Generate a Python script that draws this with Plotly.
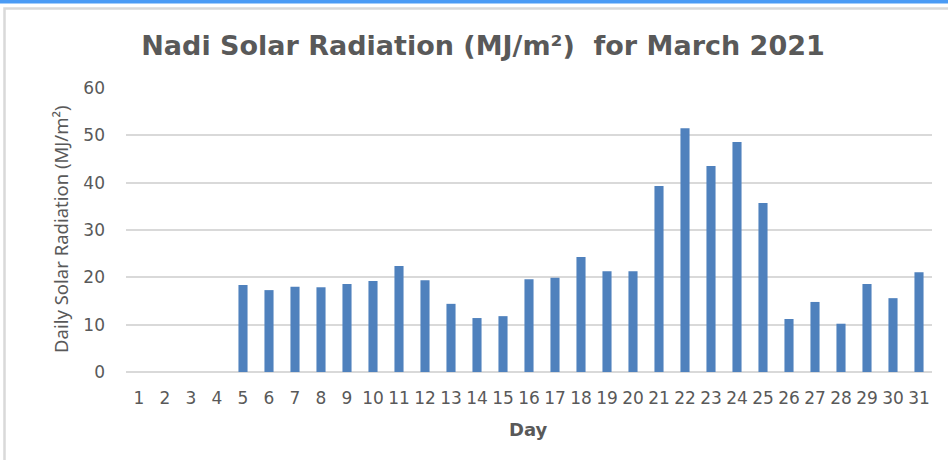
import plotly.graph_objects as go

days = [str(d) for d in range(1, 32)]
radiation = [0, 0, 0, 0, 18.4, 17.3, 18.0, 17.9, 18.6, 19.2, 22.4, 19.4, 14.4, 11.4, 11.8,
             19.6, 19.9, 24.3, 21.3, 21.3, 39.3, 51.5, 43.5, 48.6, 35.7, 11.2, 14.8, 10.2,
             18.6, 15.6, 21.1]
y_ticks = [0, 10, 20, 30, 40, 50, 60]

W, H = 948, 460
L, R, T, B = 126, 16, 88, 88
PW, PH = W - L - R, H - T - B

fig = go.Figure(go.Bar(x=days, y=radiation, marker=dict(color="#4f81bd", line=dict(width=0)), width=0.35))

gray = "#595959"
fig.update_layout(
    width=W, height=H,
    margin=dict(l=L, r=R, t=T, b=B),
    paper_bgcolor="white", plot_bgcolor="white",
    showlegend=False,
    title=dict(text="<b>Nadi Solar Radiation (MJ/m²)  for March 2021</b>",
               x=483 / W, xanchor="center", xref="container",
               y=1 - 46 / H, yanchor="middle", yref="container",
               font=dict(family="DejaVu Sans", size=27, color=gray)),
    xaxis=dict(type="category", tickangle=0, showgrid=False, showline=False,
               tickfont=dict(family="DejaVu Sans", size=17, color=gray),
               ticks="", ticklabelstandoff=14),
    yaxis=dict(range=[0, 60], tickvals=y_ticks, showgrid=True, gridcolor="#d9d9d9", gridwidth=1.5,
               zeroline=True, zerolinecolor="#d9d9d9", zerolinewidth=1.5, showline=False,
               tickfont=dict(family="DejaVu Sans", size=17, color=gray), ticks="",
               ticklabelstandoff=20),
    annotations=[
        dict(text="Daily Solar Radiation (MJ/m²)", textangle=-90, xref="paper", yref="paper",
             x=(60 - L) / PW, y=(372 - 229) / PH, xanchor="center", yanchor="middle",
             showarrow=False, font=dict(family="Noto Sans", size=18.5, color=gray)),
        dict(text="<b>Day</b>", xref="paper", yref="paper",
             x=(528 - L) / PW, y=-(429 - 372) / PH, xanchor="center", yanchor="middle",
             showarrow=False, font=dict(family="DejaVu Sans", size=18, color=gray)),
    ],
    shapes=[
        dict(type="rect", xref="paper", yref="paper",
             x0=-L / PW, x1=1 + R / PW,
             y0=1 + T / PH, y1=1 + (T - 3.5) / PH,
             fillcolor="#4a9bf5", line=dict(width=0)),
        dict(type="rect", xref="paper", yref="paper",
             x0=-(L - 4.5) / PW, x1=1 + (R + 20) / PW,
             y0=1 + (T - 8.5) / PH, y1=-(B + 20) / PH,
             fillcolor="rgba(0,0,0,0)", line=dict(color="#d9d9d9", width=2.5)),
    ],
)

fig.write_html("out.html", config={"displayModeBar": False},
               post_script="document.body.style.margin='0';")
